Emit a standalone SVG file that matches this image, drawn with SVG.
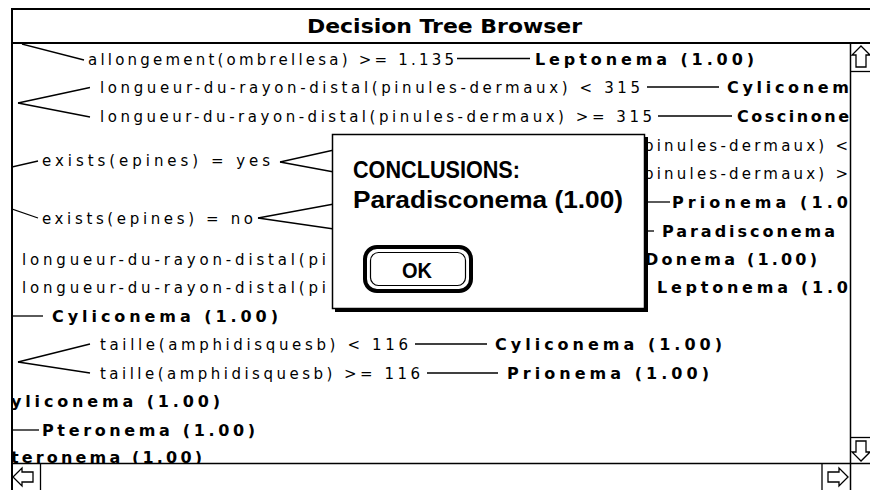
<svg xmlns="http://www.w3.org/2000/svg" width="870" height="490" viewBox="0 0 870 490">
<style>
.r{font-family:"DejaVu Sans","Liberation Sans",sans-serif;font-size:15px;fill:#000}
.b{font-family:"DejaVu Sans","Liberation Sans",sans-serif;font-size:16px;font-weight:bold;fill:#000}
.d{font-family:"Liberation Sans","DejaVu Sans",sans-serif;font-size:23px;font-weight:bold;fill:#000}
.ln{stroke:#000;stroke-width:1.3;fill:none}
.fr{stroke:#000;fill:none}
</style>
<defs>
<clipPath id="content"><rect x="13" y="44" width="837" height="419"/></clipPath>
</defs>
<rect x="0" y="0" width="870" height="490" fill="#fff"/>
<g id="window">
<line x1="11" y1="9" x2="870" y2="9" class="fr" stroke-width="2"/>
<line x1="12" y1="8" x2="12" y2="490" class="fr" stroke-width="2"/>
<line x1="11" y1="43" x2="870" y2="43" class="fr" stroke-width="2"/>
<text x="307" y="33" class="b" style="font-size:20px" textLength="275" lengthAdjust="spacingAndGlyphs">Decision Tree Browser</text>
</g>
<g id="tree-text" clip-path="url(#content)">
<text x="88" y="64.5" class="r" textLength="366" lengthAdjust="spacing">allongement(ombrellesa) &gt;= 1.135</text>
<text x="535" y="64.5" class="b" textLength="219" lengthAdjust="spacing">Leptonema (1.00)</text>
<text x="100" y="93" class="r" textLength="540" lengthAdjust="spacing">longueur-du-rayon-distal(pinules-dermaux) &lt; 315</text>
<text x="727" y="93" class="b" textLength="122" lengthAdjust="spacing">Cyliconem</text>
<text x="100" y="122" class="r" textLength="552" lengthAdjust="spacing">longueur-du-rayon-distal(pinules-dermaux) &gt;= 315</text>
<text x="737" y="122" class="b" textLength="112" lengthAdjust="spacing">Coscinone</text>
<text x="644" y="150.5" class="r" textLength="204" lengthAdjust="spacing">pinules-dermaux) &lt;</text>
<text x="644" y="179" class="r" textLength="204" lengthAdjust="spacing">pinules-dermaux) &gt;</text>
<text x="42" y="166" class="r" textLength="228" lengthAdjust="spacing">exists(epines) = yes</text>
<text x="672" y="207.5" class="b" textLength="176" lengthAdjust="spacing">Prionema (1.0</text>
<text x="42" y="223.5" class="r" textLength="211" lengthAdjust="spacing">exists(epines) = no</text>
<text x="662" y="236.5" class="b" textLength="173" lengthAdjust="spacing">Paradisconema</text>
<text x="22" y="264.5" class="r" textLength="304" lengthAdjust="spacing">longueur-du-rayon-distal(pi</text>
<text x="645" y="264.5" class="b" textLength="172" lengthAdjust="spacing">Donema (1.00)</text>
<text x="22" y="293" class="r" textLength="304" lengthAdjust="spacing">longueur-du-rayon-distal(pi</text>
<text x="657" y="293" class="b" textLength="191" lengthAdjust="spacing">Leptonema (1.0</text>
<text x="52" y="321.5" class="b" textLength="226" lengthAdjust="spacing">Cyliconema (1.00)</text>
<text x="100" y="350" class="r" textLength="308" lengthAdjust="spacing">taille(amphidisquesb) &lt; 116</text>
<text x="495" y="350" class="b" textLength="227" lengthAdjust="spacing">Cyliconema (1.00)</text>
<text x="100" y="378.5" class="r" textLength="320" lengthAdjust="spacing">taille(amphidisquesb) &gt;= 116</text>
<text x="507" y="378.5" class="b" textLength="202" lengthAdjust="spacing">Prionema (1.00)</text>
<text x="11" y="407" class="b" textLength="209" lengthAdjust="spacing">yliconema (1.00)</text>
<text x="42" y="435.5" class="b" textLength="213" lengthAdjust="spacing">Pteronema (1.00)</text>
<text x="11" y="463" class="b" textLength="191" lengthAdjust="spacing">teronema (1.00)</text>
</g>
<g id="connectors" clip-path="url(#content)">
<line x1="22" y1="44" x2="84" y2="60" class="ln"/>
<line x1="457" y1="58.5" x2="530" y2="58.5" class="ln"/>
<line x1="18" y1="103" x2="90" y2="87.5" class="ln"/>
<line x1="18" y1="103" x2="90" y2="117" class="ln"/>
<line x1="647" y1="87" x2="719" y2="87" class="ln"/>
<line x1="658" y1="116" x2="732" y2="116" class="ln"/>
<line x1="12" y1="167" x2="38" y2="161" class="ln"/>
<line x1="280" y1="162" x2="334" y2="150" class="ln"/>
<line x1="280" y1="162" x2="334" y2="172" class="ln"/>
<line x1="12" y1="209" x2="38" y2="218" class="ln"/>
<line x1="258" y1="218" x2="334" y2="204" class="ln"/>
<line x1="258" y1="218" x2="334" y2="229" class="ln"/>
<line x1="646" y1="202" x2="670" y2="202" class="ln"/>
<line x1="646" y1="231" x2="654" y2="231" class="ln"/>
<line x1="12" y1="316" x2="43" y2="316" class="ln"/>
<line x1="18" y1="362" x2="90" y2="344" class="ln"/>
<line x1="18" y1="362" x2="90" y2="373" class="ln"/>
<line x1="415" y1="344" x2="487" y2="344" class="ln"/>
<line x1="427" y1="373" x2="498" y2="373" class="ln"/>
<line x1="12" y1="430" x2="39" y2="430" class="ln"/>
</g>
<g id="scrollbars">
<line x1="850.5" y1="43" x2="850.5" y2="490" class="fr" stroke-width="1.5"/>
<line x1="11" y1="463.5" x2="870" y2="463.5" class="fr" stroke-width="1.5"/>
<line x1="850" y1="71.5" x2="870" y2="71.5" class="fr" stroke-width="1.3"/>
<line x1="850" y1="437.5" x2="870" y2="437.5" class="fr" stroke-width="1.3"/>
<line x1="40.5" y1="463" x2="40.5" y2="490" class="fr" stroke-width="1.3"/>
<line x1="822" y1="463" x2="822" y2="490" class="fr" stroke-width="1.3"/>
<polygon points="861,46 870,55 866,55 866,67 856,67 856,55 852,55" class="fr" stroke-width="1.3" fill="#fff"/>
<polygon points="856,441 866,441 866,452 870,452 861,461 852,452 856,452" class="fr" stroke-width="1.3" fill="#fff"/>
<polygon points="13,477 22,468 22,472 33,472 33,482 22,482 22,486" class="fr" stroke-width="1.3" fill="#fff"/>
<polygon points="848,477 839,468 839,472 828,472 828,482 839,482 839,486" class="fr" stroke-width="1.3" fill="#fff"/>
</g>
<g id="dialog">
<rect x="335" y="137" width="313" height="175" fill="#000"/>
<rect x="332.5" y="134.5" width="312" height="174" fill="#fff" stroke="#000" stroke-width="1.5"/>
<text x="353" y="178" class="d" textLength="167" lengthAdjust="spacingAndGlyphs">CONCLUSIONS:</text>
<text x="353" y="208" class="d" textLength="270" lengthAdjust="spacingAndGlyphs">Paradisconema (1.00)</text>
<g id="ok-button">
<rect x="365" y="247" width="106" height="44" rx="12" fill="#fff" stroke="#000" stroke-width="4"/>
<rect x="370.5" y="252.5" width="95" height="33" rx="8" fill="none" stroke="#000" stroke-width="1.2"/>
<text x="402" y="278" class="d" style="font-size:22px" textLength="30" lengthAdjust="spacingAndGlyphs">OK</text>
</g>
</g>
</svg>
